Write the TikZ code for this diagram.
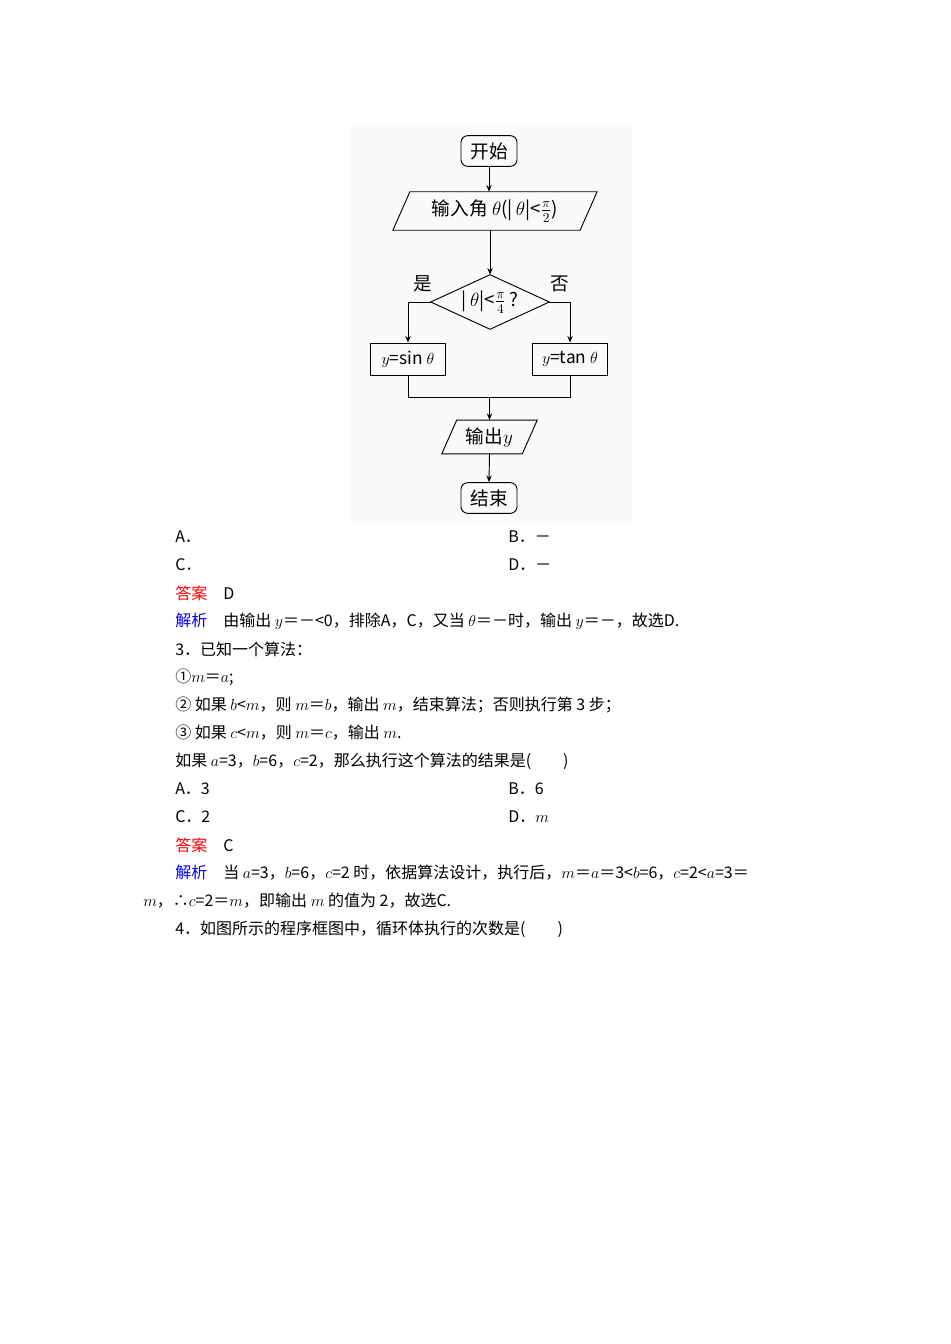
\documentclass[tikz,border=0pt]{standalone}
\usepackage[no-math]{fontspec}
\setmainfont{Noto Sans CJK SC}
\usetikzlibrary{calc,arrows.meta}
\begin{document}
\begin{tikzpicture}[x=0.75pt,y=-0.75pt,
 box/.style={draw,line width=0.7pt,minimum width=#1,minimum height=24pt,inner sep=0pt,font=\fontsize{13}{15}\selectfont},
 term/.style={draw,rounded corners=5pt,line width=0.7pt,minimum width=42pt,minimum height=23pt,inner sep=0pt,font=\fontsize{14}{16}\selectfont},
 ghost/.style={inner sep=0pt,font=\fontsize{14}{16}\selectfont},
 ln/.style={line width=0.7pt},
 arr/.style={line width=0.7pt,-{Stealth[length=5pt,width=4pt]}},
 tx/.style={anchor=west,inner sep=0pt,font=\fontsize{12}{14}\selectfont}]
\useasboundingbox (0,0) rectangle (950,1344);
\fill[gray!4] (350,125) rectangle (632,523);
\node[term] (start) at (489,151) {开始};
\node[ghost,minimum width=140pt,minimum height=28.5pt] (inp) at (495,211) {输入角 $\theta$(|\,$\theta$|<$\frac{\pi}{2}$)};
\draw[ln] ($(inp.north west)+(8.5,0)$) -- ($(inp.north east)+(8.5,0)$) -- ($(inp.south east)+(-8.5,0)$) -- ($(inp.south west)+(-8.5,0)$) -- cycle;
\node[ghost,minimum width=88.5pt,minimum height=40.5pt] (dec) at (490,302) {|\,$\theta$|<$\frac{\pi}{4}$\,?};
\draw[ln] (dec.north) -- (dec.east) -- (dec.south) -- (dec.west) -- cycle;
\node[ghost] (yes) at (423,284) {是};
\node[ghost] (no) at (560,284) {否};
\node[box=56pt] (sinb) at (408,359) {$y$=sin $\theta$};
\node[box=56pt] (tanb) at (570,359) {$y$=tan $\theta$};
\node[ghost,minimum width=60pt,minimum height=25pt] (outp) at (489.5,437) {输出$y$};
\draw[ln] ($(outp.north west)+(7.5,0)$) -- ($(outp.north east)+(7.5,0)$) -- ($(outp.south east)+(-7.5,0)$) -- ($(outp.south west)+(-7.5,0)$) -- cycle;
\node[term] (end) at (489,498) {结束};
\coordinate (mL) at (408,397);
\coordinate (mR) at (570,397);
\coordinate (mC) at (489.5,397);
\draw[arr] (start) -- (start |- inp.north);
\draw[arr] (inp.south -| dec.north) -- (dec.north);
\draw[arr] (dec.west) -| (sinb.north);
\draw[arr] (dec.east) -| (tanb.north);
\draw[ln] (sinb.south) -- (mL) -- (mR) -- (tanb.south);
\draw[arr] (mC) -- (outp.north);
\draw[arr] (outp.south) -- (end.north);
\node[tx] (t1) at (175,537) {A．};
\node[tx] (t2) at (508,537) {B．－};
\node[tx] (t3) at (175,565) {C．};
\node[tx] (t4) at (508,565) {D．－};
\node[tx] (t5) at (175,593) {\textcolor{red}{答案}\quad D};
\node[tx] (t6) at (175,621) {\textcolor{blue}{解析}\quad 由输出 $y$＝－<0，排除A，C，又当 $\theta$＝－时，输出 $y$＝－，故选D.};
\node[tx] (t7) at (175,649) {3．已知一个算法：};
\node[tx] (t8) at (175,677) {①$m$＝$a$;};
\node[tx] (t9) at (175,705) {② 如果 $b$<$m$，则 $m$＝$b$，输出 $m$，结束算法；否则执行第 3 步；};
\node[tx] (t10) at (175,733) {③ 如果 $c$<$m$，则 $m$＝$c$，输出 $m$.};
\node[tx] (t11) at (175,761) {如果 $a$=3，$b$=6，$c$=2，那么执行这个算法的结果是(\qquad)};
\node[tx] (t12) at (175,789) {A．3};
\node[tx] (t13) at (508,789) {B．6};
\node[tx] (t14) at (175,817) {C．2};
\node[tx] (t15) at (508,817) {D．$m$};
\node[tx] (t16) at (175,845) {\textcolor{red}{答案}\quad C};
\node[tx] (t17) at (175,873) {\textcolor{blue}{解析}\quad 当 $a$=3，$b$=6，$c$=2 时，依据算法设计，执行后，$m$＝$a$＝3<$b$=6，$c$=2<$a$=3＝};
\node[tx] (t18) at (143,901) {$m$，∴$c$=2＝$m$，即输出 $m$ 的值为 2，故选C.};
\node[tx] (t19) at (175,929) {4．如图所示的程序框图中，循环体执行的次数是(\qquad)};
\end{tikzpicture}
\end{document}
